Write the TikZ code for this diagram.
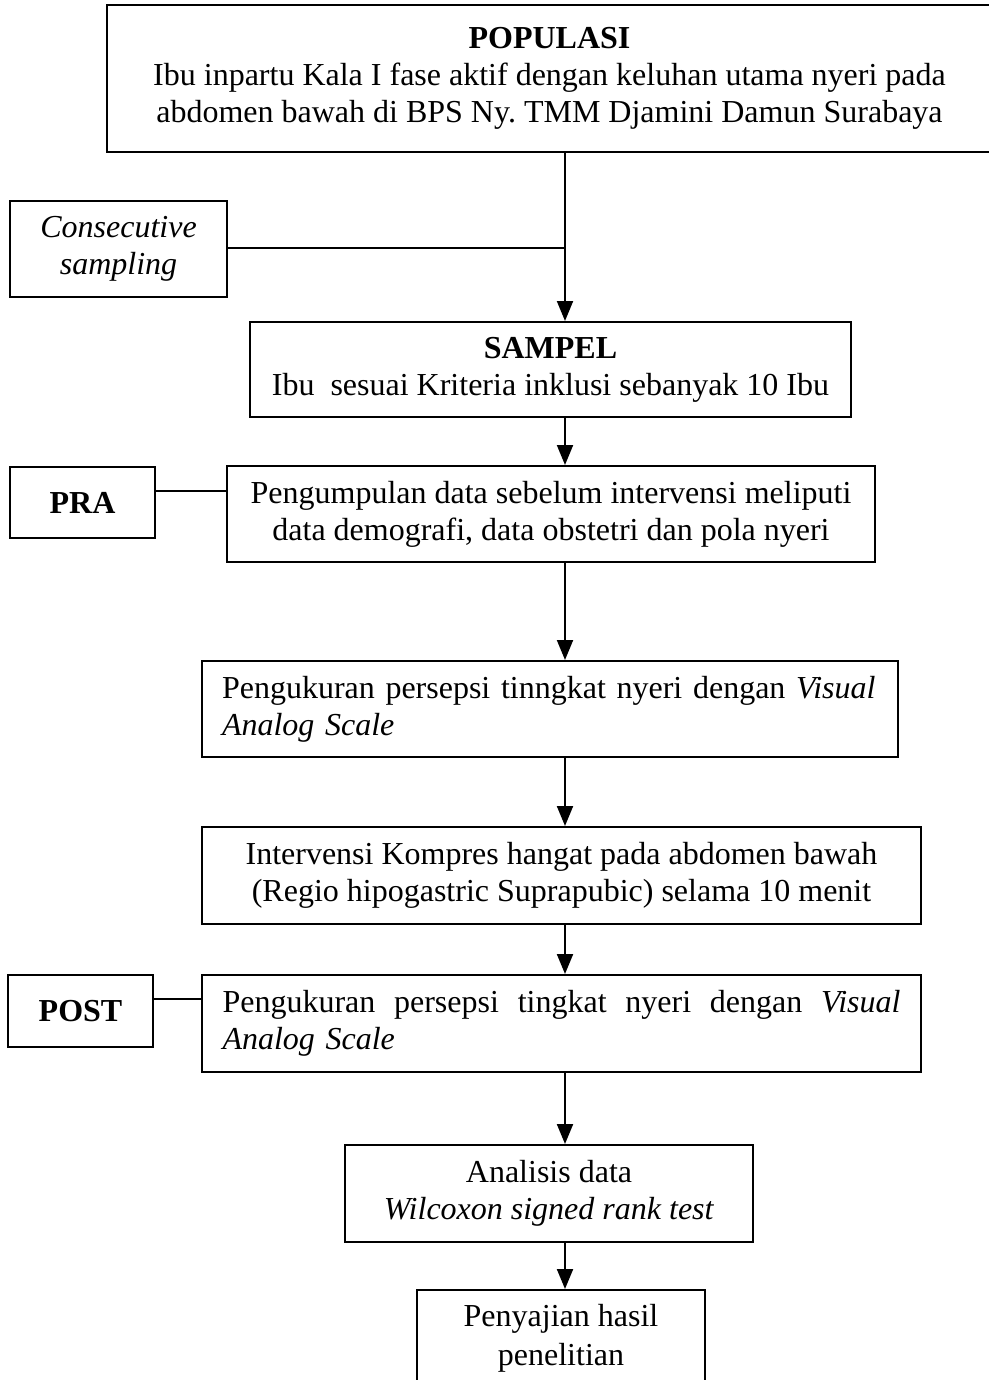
\documentclass[tikz,border=0pt]{standalone}
\usepackage{fontspec}
\setmainfont{Liberation Serif}
\usetikzlibrary{arrows.meta}
\begin{document}
\begin{tikzpicture}[x=1pt,y=-1pt,
  box/.style={draw, line width=2pt, inner sep=0pt, align=center, font=\fontsize{32}{37}\selectfont},
  link/.style={line width=2pt},
  arr/.style={line width=2pt, -{Triangle[length=20pt,width=16pt]}}]
\useasboundingbox (0,0) rectangle (988,1380);
\coordinate (spine) at (565,0);
\coordinate (jn) at (565,248);
\coordinate (lineP) at (0,491);
\coordinate (lineQ) at (0,999);

\node[box, minimum width=885, minimum height=147] (pop) at (549.5,78.5)
  {\textbf{POPULASI}\\Ibu inpartu Kala I fase aktif dengan keluhan utama nyeri pada\\abdomen bawah di BPS Ny.\ TMM Djamini Damun Surabaya};
\node[box, minimum width=217, minimum height=96] (cons) at (118.5,249)
  {\textit{Consecutive}\\\textit{sampling}};
\node[box, minimum width=601, minimum height=95] (sampel) at (550.5,369.5)
  {\textbf{SAMPEL}\\Ibu\ \ sesuai Kriteria inklusi sebanyak 10 Ibu};
\node[box, minimum width=145, minimum height=71] (pra) at (82.5,502.5) {\textbf{PRA}};
\node[box, minimum width=648, minimum height=96] (peng) at (551,514)
  {Pengumpulan data sebelum intervensi meliputi\\data demografi, data obstetri dan pola nyeri};
\node[box, minimum width=696, minimum height=96, text width=656, align=left] (ukur1) at (550,709)
  {Pengukuran persepsi tinngkat nyeri dengan \textit{Visual}\\\textit{Analog Scale}};
\node[box, minimum width=719, minimum height=97] (interv) at (561.5,875.5)
  {Intervensi Kompres hangat pada abdomen bawah\\(Regio hipogastric Suprapubic) selama 10 menit};
\node[box, minimum width=145, minimum height=72] (post) at (80.5,1011) {\textbf{POST}};
\node[box, minimum width=719, minimum height=97, text width=678, align=left] (ukur2) at (561.5,1023.5)
  {\makebox[678pt][l]{Pengukuran\hfill persepsi\hfill tingkat\hfill nyeri\hfill dengan\hfill \textit{Visual}}\\\textit{Analog Scale}};
\node[box, minimum width=408, minimum height=97] (anal) at (549,1193.5)
  {Analisis data\\\textit{Wilcoxon signed rank test}};
\node[box, minimum width=288, minimum height=96, font=\fontsize{32}{39}\selectfont] (saji) at (561,1338)
  {Penyajian hasil\\penelitian};

\draw[arr] (pop.south -| spine) -- (sampel.north -| spine);
\draw[link] (cons.east |- jn) -- (jn);
\draw[arr] (sampel.south -| spine) -- (peng.north -| spine);
\draw[link] (pra.east |- lineP) -- (peng.west |- lineP);
\draw[arr] (peng.south -| spine) -- (ukur1.north -| spine);
\draw[arr] (ukur1.south -| spine) -- (interv.north -| spine);
\draw[arr] (interv.south -| spine) -- (ukur2.north -| spine);
\draw[link] (post.east |- lineQ) -- (ukur2.west |- lineQ);
\draw[arr] (ukur2.south -| spine) -- (anal.north -| spine);
\draw[arr] (anal.south -| spine) -- (saji.north -| spine);
\end{tikzpicture}
\end{document}
